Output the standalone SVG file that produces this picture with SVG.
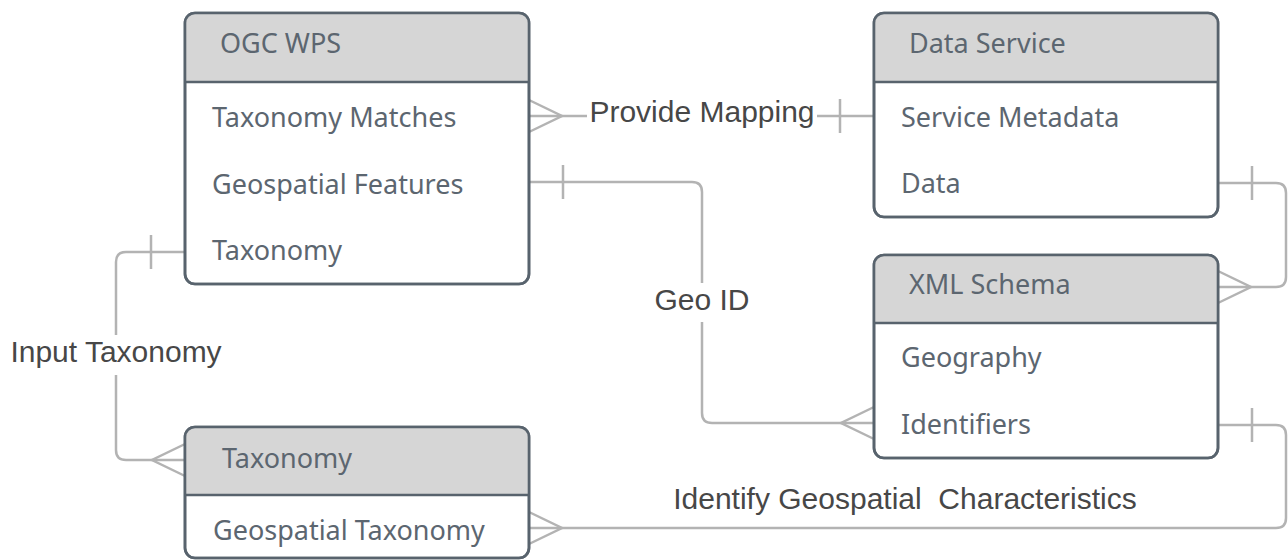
<svg xmlns="http://www.w3.org/2000/svg" width="1288" height="560" viewBox="0 0 1288 560">
<style>
.box{fill:#ffffff;stroke:#58636d;stroke-width:2.6}
.frame{fill:none;stroke:#58636d;stroke-width:2.6}
.hdr{fill:#d6d6d6}
.div{stroke:#58636d;stroke-width:2.6}
.ent{font-family:"Noto Sans","Open Sans",sans-serif;font-size:27px;fill:#5c6670}
.lbl{font-family:"Liberation Sans",Arial,sans-serif;font-size:30px;fill:#474747;white-space:pre}
.con{fill:none;stroke:#b3b3b3;stroke-width:2.5}
.mk{fill:none;stroke:#b3b3b3;stroke-width:2.5}
</style>
<defs>
<marker id="many" markerUnits="userSpaceOnUse" viewBox="-40 -20 44 40" markerWidth="44" markerHeight="40" refX="0" refY="0" orient="auto-start-reverse" overflow="visible">
<path class="mk" d="M0,-16 L-33,0 L0,16"/>
</marker>
<marker id="one" markerUnits="userSpaceOnUse" viewBox="-40 -20 44 40" markerWidth="44" markerHeight="40" refX="0" refY="0" orient="auto-start-reverse" overflow="visible">
<path class="mk" d="M-34,-17 V17"/>
</marker>
</defs>
<rect width="1288" height="560" fill="#ffffff"/>

<g id="connectors">
<path class="con" d="M529,116 H587" marker-start="url(#many)"/>
<path class="con" d="M817,116 H874" marker-end="url(#one)"/>
<path class="con" d="M529,182 H692 Q702,182 702,192 V283" marker-start="url(#one)"/>
<path class="con" d="M702,322 V413 Q702,423 712,423 H874" marker-end="url(#many)"/>
<path class="con" d="M1218,183 H1276 Q1286,183 1286,193 V277 Q1286,287 1276,287 H1218" marker-start="url(#one)" marker-end="url(#many)"/>
<path class="con" d="M1218,425 H1276 Q1286,425 1286,435 V518 Q1286,528 1276,528 H529" marker-start="url(#one)" marker-end="url(#many)"/>
<path class="con" d="M185,252 H126 Q116,252 116,262 V335" marker-start="url(#one)"/>
<path class="con" d="M116,375 V450 Q116,460 126,460 H185" marker-end="url(#many)"/>
<text class="lbl" x="702" y="122" text-anchor="middle">Provide Mapping</text>
<text class="lbl" x="702" y="310" text-anchor="middle">Geo ID</text>
<text class="lbl" x="116" y="362" text-anchor="middle">Input Taxonomy</text>
<text class="lbl" x="905" y="509" text-anchor="middle" xml:space="preserve">Identify Geospatial  Characteristics</text>
</g>

<g id="ogc-wps">
<rect class="box" x="185" y="13" width="344" height="271" rx="10"/>
<path class="hdr" d="M185,82 V23 Q185,13 195,13 H519 Q529,13 529,23 V82 Z"/>
<line class="div" x1="185" y1="82" x2="529" y2="82"/>
<rect class="frame" x="185" y="13" width="344" height="271" rx="10"/>
<text class="ent" x="220" y="53">OGC WPS</text>
<text class="ent" x="212" y="127">Taxonomy Matches</text>
<text class="ent" x="212" y="194">Geospatial Features</text>
<text class="ent" x="212" y="260">Taxonomy</text>
</g>

<g id="data-service">
<rect class="box" x="874" y="13" width="344" height="204" rx="10"/>
<path class="hdr" d="M874,82 V23 Q874,13 884,13 H1208 Q1218,13 1218,23 V82 Z"/>
<line class="div" x1="874" y1="82" x2="1218" y2="82"/>
<rect class="frame" x="874" y="13" width="344" height="204" rx="10"/>
<text class="ent" x="909" y="53">Data Service</text>
<text class="ent" x="901" y="127">Service Metadata</text>
<text class="ent" x="901" y="193">Data</text>
</g>

<g id="xml-schema">
<rect class="box" x="874" y="255" width="344" height="203" rx="10"/>
<path class="hdr" d="M874,323 V265 Q874,255 884,255 H1208 Q1218,255 1218,265 V323 Z"/>
<line class="div" x1="874" y1="323" x2="1218" y2="323"/>
<rect class="frame" x="874" y="255" width="344" height="203" rx="10"/>
<text class="ent" x="909" y="294">XML Schema</text>
<text class="ent" x="901" y="367">Geography</text>
<text class="ent" x="901" y="434">Identifiers</text>
</g>

<g id="taxonomy">
<rect class="box" x="185" y="427" width="344" height="131" rx="10"/>
<path class="hdr" d="M185,495 V437 Q185,427 195,427 H519 Q529,427 529,437 V495 Z"/>
<line class="div" x1="185" y1="495" x2="529" y2="495"/>
<rect class="frame" x="185" y="427" width="344" height="131" rx="10"/>
<text class="ent" x="222" y="468">Taxonomy</text>
<text class="ent" x="213" y="540">Geospatial Taxonomy</text>
</g>
</svg>
